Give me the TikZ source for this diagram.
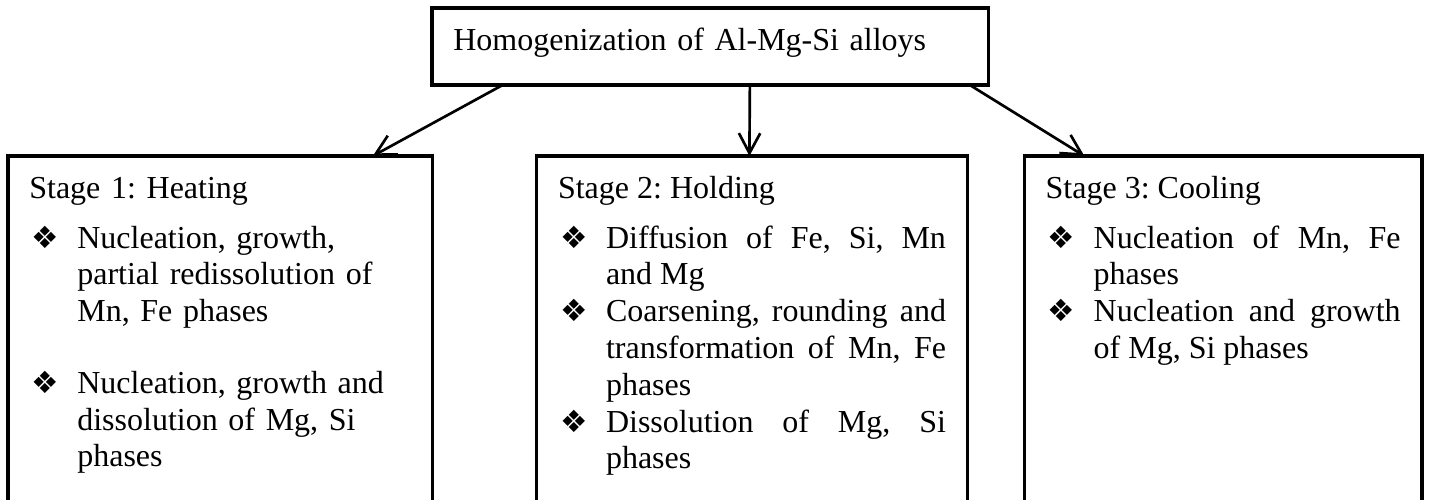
\documentclass[tikz,border=0pt]{standalone}
\usepackage{fontspec}
\setmainfont{Liberation Serif}
\newfontfamily\dingfont{DejaVu Sans}
\usetikzlibrary{positioning,calc,arrows.meta}
\tikzset{>={Straight Barb[length=7.5pt,width=8pt]}}
\setlength{\parindent}{0pt}
\hbadness=10000
\frenchspacing

\newcommand{\stagetitle}[1]{\strut#1\par\vspace{5pt}}
\newcommand{\stageitem}[1]{\par\hangindent=18pt\hangafter=1\noindent
  \makebox[18pt][l]{\hspace{0.8pt}{\dingfont\fontsize{11.5pt}{11.5pt}\selectfont ❖}}#1\par}

\begin{document}
\begin{tikzpicture}[
    font=\fontsize{12pt}{13.8pt}\selectfont,
    outer sep=0pt,
    stagebox/.style={draw, line width=1.2pt, inner xsep=8pt, inner ysep=6.1pt, text depth=150pt},
    headbox/.style={draw, line width=1.2pt, inner xsep=8pt, inner ysep=6.1pt, text height=9.66pt, text depth=7pt}
]
\useasboundingbox (0,0) rectangle (535.875pt,-187.125pt);

\node[headbox, anchor=north west, text width=192.75pt, align=left] (homog) at (162pt,-3pt)
  {Homogenization of Al-Mg-Si alloys};

\node[stagebox, anchor=north west, text width=143.25pt, align=left] (heat) at (3pt,-58.5pt) {%
  \stagetitle{Stage 1: Heating}
  \stageitem{Nucleation, growth,\linebreak partial redissolution of\linebreak Mn, Fe phases}
  \vspace{13pt}
  \stageitem{Nucleation, growth and\linebreak dissolution of Mg, Si\linebreak phases}};

\node[stagebox, right=39pt of heat.north east, anchor=north west, text width=145.5pt, align=justify] (hold) {%
  \stagetitle{Stage 2: Holding}
  \stageitem{Diffusion of Fe, Si, Mn\linebreak and Mg}
  \stageitem{Coarsening, rounding and\linebreak transformation of Mn, Fe\linebreak phases}
  \stageitem{Dissolution of Mg, Si\linebreak phases}};

\node[stagebox, right=21.375pt of hold.north east, anchor=north west, text width=133.125pt, align=justify] (cool) {%
  \stagetitle{Stage 3: Cooling}
  \stageitem{Nucleation of Mn, Fe\linebreak phases}
  \stageitem{Nucleation and growth\linebreak of Mg, Si phases}};

% arrows from the top box to the three stages
\draw[->, line width=1pt] ($(homog.south west)!0.127!(homog.south east)$) -- ($(heat.north west)!0.859!(heat.north east)$);
\draw[->, line width=1pt] ($(homog.south west)!0.571!(homog.south east)$) -- ($(hold.north west)!0.494!(hold.north east)$);
\draw[->, line width=1pt] ($(homog.south west)!0.966!(homog.south east)$) -- ($(cool.north west)!0.151!(cool.north east)$);
\end{tikzpicture}
\end{document}
